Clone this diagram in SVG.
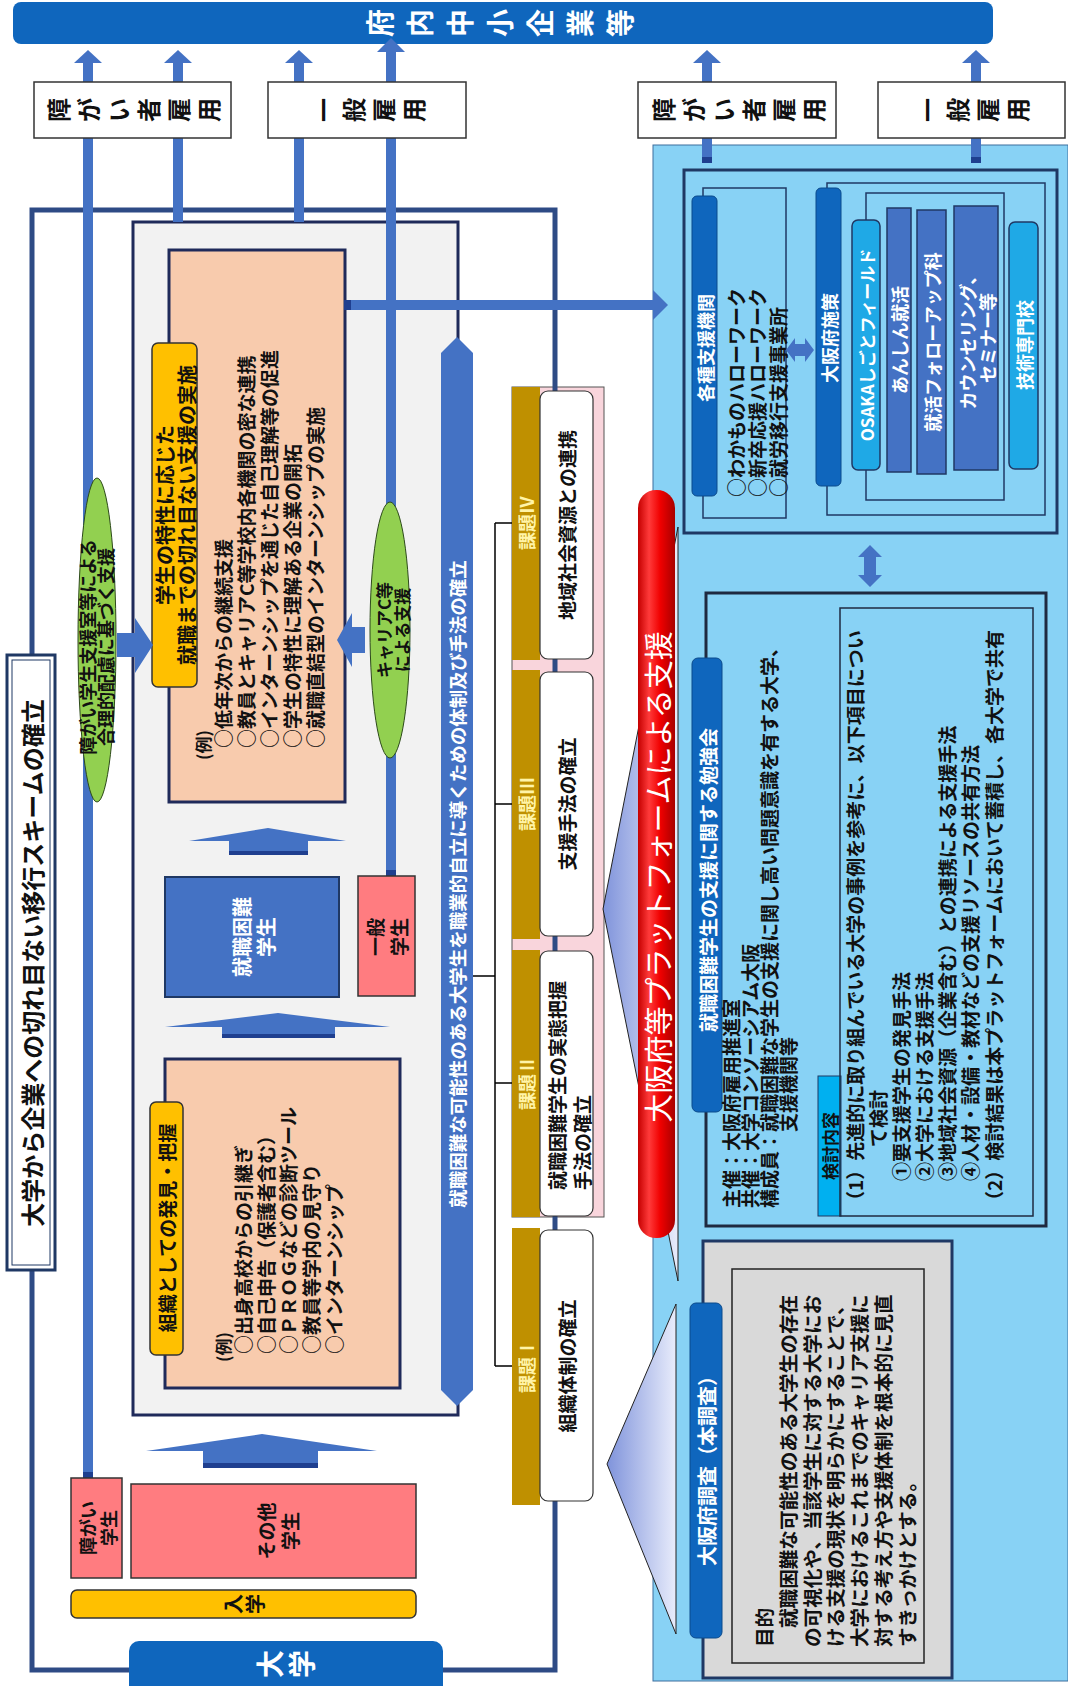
<svg xmlns="http://www.w3.org/2000/svg" width="1068" height="1686" viewBox="0 0 1068 1686">
<defs>
<style>
text { font-family: "Noto Sans CJK JP", "Noto Sans CJK SC", "Noto Sans", sans-serif; dominant-baseline: central; fill: #111; }
.b { font-weight: bold; }
.w { fill: #ffffff; }
.c { text-anchor: middle; }
.s { text-anchor: start; }
.gl { fill: #FFF4A8; }
.f17 { font-size: 17px; }
.f18 { font-size: 18px; }
.f19 { font-size: 19px; }
.f20 { font-size: 20px; }
.f24 { font-size: 24px; }
.f26 { font-size: 26px; }
.f28 { font-size: 28px; }
.ln { fill: none; stroke: #4472C4; stroke-width: 10; }
.ah { fill: #4472C4; }
.cap { fill: #1F3F8F; }
.thin { fill: none; stroke: #1F3864; stroke-width: 1.5; }
.emp { fill: #ffffff; stroke: #333; stroke-width: 1.5; }
.dbar { fill: #0F66BD; stroke: #0B4A8C; stroke-width: 1; }
.cy { fill: #1FA9E6; stroke: #1F3864; stroke-width: 1.5; }
.mb { fill: #4472C4; stroke: #1F3864; stroke-width: 1.5; }
.gold { fill: #BF9000; }
.wb { fill: #ffffff; stroke: #333; stroke-width: 1.2; }
.sal { fill: #FF7C80; stroke: #333; stroke-width: 1.5; }
.br { fill: none; stroke: #000; stroke-width: 1.5; }
</style>
<linearGradient id="redG" x1="0" y1="0" x2="1" y2="0">
<stop offset="0" stop-color="#C40000"/>
<stop offset="0.3" stop-color="#FF3A3A"/>
<stop offset="0.6" stop-color="#F00000"/>
<stop offset="1" stop-color="#A80000"/>
</linearGradient>
<linearGradient id="triG" x1="0" y1="0" x2="1" y2="0">
<stop offset="0" stop-color="#7F93DB"/>
<stop offset="1" stop-color="#E8ECFB"/>
</linearGradient>
</defs>
<rect width="1068" height="1686" fill="#ffffff"/>

<g id="light-blue-area">
<rect x="653" y="145" width="415" height="1536" fill="#88D2F5" stroke="#3D6E9E" stroke-width="1"/>
</g>

<g id="fuchu-chusho">
<rect x="13" y="2" width="980" height="42" rx="8" fill="#0F66BD"/>
<text class="b w f28 c" transform="translate(379 23) rotate(-90)">府</text>
<text class="b w f28 c" transform="translate(419 23) rotate(-90)">内</text>
<text class="b w f28 c" transform="translate(459 23) rotate(-90)">中</text>
<text class="b w f28 c" transform="translate(499 23) rotate(-90)">小</text>
<text class="b w f28 c" transform="translate(539 23) rotate(-90)">企</text>
<text class="b w f28 c" transform="translate(579 23) rotate(-90)">業</text>
<text class="b w f28 c" transform="translate(619 23) rotate(-90)">等</text>
</g>

<g id="kadai-pink">
<rect x="512" y="387" width="92" height="830" fill="#F9D5DC" stroke="#555" stroke-width="1"/>
</g>

<g id="daigaku-frame">
<rect x="32" y="210" width="523" height="1460" fill="none" stroke="#2E4B85" stroke-width="5"/>
</g>

<g id="title">
<rect x="7" y="655" width="48" height="615" fill="#ffffff" stroke="#1F3864" stroke-width="3"/>
<rect x="12" y="660" width="38" height="605" fill="none" stroke="#1F3864" stroke-width="1"/>
<text class="b f24 c" transform="translate(31 963) rotate(-90)">大学から企業への切れ目ない移行スキームの確立</text>
</g>

<g id="gray-box">
<rect x="133" y="222" width="325" height="1193" fill="#F2F2F2" stroke="#1F2A5A" stroke-width="3"/>
</g>

<g id="support-box">
<rect x="169" y="250" width="176" height="552" fill="#F8CBAD" stroke="#1F2A5A" stroke-width="3"/>
<rect x="152" y="343" width="45" height="344" rx="6" fill="#FFC000" stroke="#333" stroke-width="1.5"/>
<text class="b f20 c" transform="translate(164 515) rotate(-90)"><tspan x="0" y="0">学生の特性に応じた</tspan><tspan x="0" y="22">就職までの切れ目ない支援の実施</tspan></text>
<text class="b f17 s" transform="translate(202 760) rotate(-90)">(例)</text>
<text class="b f19 s" transform="translate(222 748) rotate(-90)"><tspan x="0" y="0">○低年次からの継続支援</tspan><tspan x="0" y="23">○教員とキャリアC等学校内各機関の密な連携</tspan><tspan x="0" y="46">○インターンシップを通じた自己理解等の促進</tspan><tspan x="0" y="69">○学生の特性に理解ある企業の開拓</tspan><tspan x="0" y="92">○就職直結型のインターンシップの実施</tspan></text>
</g>

<g id="discovery-box">
<rect x="165" y="1059" width="235" height="329" fill="#F8CBAD" stroke="#1F2A5A" stroke-width="3"/>
<rect x="150" y="1102" width="33" height="253" rx="6" fill="#FFC000" stroke="#333" stroke-width="1.5"/>
<text class="b f19 c" transform="translate(166.5 1228) rotate(-90)">組織としての発見・把握</text>
<text class="b f17 s" transform="translate(222 1362) rotate(-90)">(例)</text>
<text class="b f19 s" transform="translate(242 1354) rotate(-90)"><tspan x="0" y="0">○出身高校からの引継ぎ</tspan><tspan x="0" y="22.7">○自己申告（保護者含む）</tspan><tspan x="0" y="45.4">○ＰＲＯＧなどの診断ツール</tspan><tspan x="0" y="68.1">○教員等学内の見守り</tspan><tspan x="0" y="90.8">○インターンシップ</tspan></text>
</g>

<g id="shushoku-konnan">
<rect x="165" y="877" width="174" height="120" fill="#4472C4" stroke="#1F3864" stroke-width="2"/>
<text class="b w f20 c" transform="translate(241 937) rotate(-90)"><tspan x="0" y="0">就職困難</tspan><tspan x="0" y="24">学生</tspan></text>
</g>

<g id="shushoku-bar">
<polygon points="457,337 473,353 473,1390 457,1406 441,1390 441,353" fill="#4472C4"/>
<text class="b w f18 c" transform="translate(457 884) rotate(-90)" style="font-size:18.5px">就職困難な可能性のある大学生を職業的自立に導くための体制及び手法の確立</text>
</g>

<g id="kadai-4">
<rect x="512" y="387" width="28" height="273" class="gold"/>
<rect x="540" y="391" width="53" height="268" rx="8" class="wb"/>
<text class="b gl f18 c" transform="translate(526 523) rotate(-90)">課題Ⅳ</text>
<text class="b f19 c" transform="translate(566 525) rotate(-90)">地域社会資源との連携</text>
</g>
<g id="kadai-3">
<rect x="512" y="670" width="28" height="269" class="gold"/>
<rect x="540" y="672" width="53" height="264" rx="8" class="wb"/>
<text class="b gl f18 c" transform="translate(526 804) rotate(-90)">課題Ⅲ</text>
<text class="b f19 c" transform="translate(566 804) rotate(-90)">支援手法の確立</text>
</g>
<g id="kadai-2">
<rect x="512" y="950" width="28" height="267" class="gold"/>
<rect x="540" y="951" width="53" height="265" rx="8" class="wb"/>
<text class="b gl f18 c" transform="translate(526 1083) rotate(-90)">課題Ⅱ</text>
<text class="b f19 s" transform="translate(556 1190) rotate(-90)"><tspan x="0" y="0">就職困難学生の実態把握</tspan><tspan x="0" y="25">手法の確立</tspan></text>
</g>
<g id="kadai-1">
<rect x="512" y="1228" width="28" height="277" class="gold"/>
<rect x="540" y="1230" width="53" height="271" rx="8" class="wb"/>
<text class="b gl f18 c" transform="translate(526 1366) rotate(-90)">課題Ⅰ</text>
<text class="b f19 c" transform="translate(566 1366) rotate(-90)">組織体制の確立</text>
</g>

<g id="callouts">
<polygon points="603,909 678,527 678,1281" fill="url(#triG)" stroke="#222" stroke-width="1"/>
<polygon points="607,1464 676,1304 676,1634" fill="url(#triG)" stroke="#222" stroke-width="1"/>
</g>

<g id="platform">
<rect x="638" y="490" width="37" height="748" rx="18" fill="url(#redG)"/>
<text class="w c" style="font-size:29px" transform="translate(657 877) rotate(-90)">大阪府等プラットフォームによる支援</text>
</g>

<g id="support-agencies">
<rect x="684" y="170" width="373" height="363" fill="none" stroke="#1F3864" stroke-width="3"/>
<rect x="703" y="188" width="83" height="330" class="thin"/>
<rect x="692" y="196" width="25" height="300" rx="5" class="dbar"/>
<text class="b w f18 c" transform="translate(704.5 348) rotate(-90)">各種支援機関</text>
<text class="b f19 s" transform="translate(735 497) rotate(-90)"><tspan x="0" y="0">○わかものハローワーク</tspan><tspan x="0" y="21">○新卒応援ハローワーク</tspan><tspan x="0" y="42">○就労移行支援事業所</tspan></text>
</g>

<g id="osaka-measures">
<rect x="827" y="183" width="218" height="332" class="thin"/>
<rect x="816" y="188" width="25" height="298" rx="5" class="dbar"/>
<text class="b w f18 c" transform="translate(828.5 338) rotate(-90)">大阪府施策</text>
<rect x="866" y="193" width="138" height="307" class="thin"/>
<rect x="852" y="220" width="28" height="250" rx="6" class="cy"/>
<text class="b w f17 c" transform="translate(866 345) rotate(-90)">OSAKAしごとフィールド</text>
<rect x="887" y="208" width="24" height="264" class="mb"/>
<text class="b w f18 c" transform="translate(899 340) rotate(-90)">あんしん就活</text>
<rect x="917" y="210" width="29" height="264" class="mb"/>
<text class="b w f18 c" transform="translate(931.5 342) rotate(-90)">就活フォローアップ科</text>
<rect x="954" y="206" width="44" height="264" class="mb"/>
<text class="b w f18 c" transform="translate(967 338) rotate(-90)"><tspan x="0" y="0">カウンセリング、</tspan><tspan x="0" y="20">セミナー等</tspan></text>
<rect x="1009" y="222" width="29" height="247" rx="6" class="cy"/>
<text class="b w f18 c" transform="translate(1023.5 345) rotate(-90)">技術専門校</text>
</g>

<g id="study-group">
<rect x="706" y="593" width="340" height="633" fill="none" stroke="#1F2A40" stroke-width="3"/>
<rect x="692" y="658" width="30" height="454" rx="6" class="dbar"/>
<text class="b w f19 c" transform="translate(707 880) rotate(-90)">就職困難学生の支援に関する勉強会</text>
<text class="b f19 s" transform="translate(730 1208) rotate(-90)"><tspan x="0" y="0">主催：大阪府雇用推進室</tspan><tspan x="0" y="19">共催：大学コンソーシアム大阪</tspan><tspan x="0" y="38">構成員：就職困難な学生の支援に関し高い問題意識を有する大学、</tspan><tspan x="76" y="57">支援機関等</tspan></text>
<rect x="818" y="1076" width="23" height="140" fill="#00B0F0" stroke="#1F3864" stroke-width="1"/>
<text class="b f17 c" transform="translate(829.5 1146) rotate(-90)">検討内容</text>
<rect x="840" y="608" width="193" height="608" fill="none" stroke="#1F2A40" stroke-width="1.5"/>
<text class="b f19 s" transform="translate(854 1210) rotate(-90)"><tspan x="0" y="0">（1）先進的に取り組んでいる大学の事例を参考に、以下項目につい</tspan><tspan x="63" y="23">て検討</tspan><tspan x="29" y="46">①要支援学生の発見手法</tspan><tspan x="29" y="69">②大学における支援手法</tspan><tspan x="29" y="92">③地域社会資源（企業含む）との連携による支援手法</tspan><tspan x="29" y="115">④人材・設備・教材などの支援リソースの共有方法</tspan><tspan x="0" y="139">（2）検討結果は本プラットフォームにおいて蓄積し、各大学で共有</tspan></text>
</g>

<g id="osaka-survey">
<rect x="703" y="1241" width="249" height="437" fill="#D9D9D9" stroke="#1F3864" stroke-width="3"/>
<rect x="690" y="1303" width="32" height="335" rx="6" class="dbar"/>
<text class="b w f20 c" transform="translate(706 1466) rotate(-90)">大阪府調査（本調査）</text>
<rect x="732" y="1269" width="192" height="394" fill="#D9D9D9" stroke="#222" stroke-width="1.5"/>
<text class="b f19 s" transform="translate(763 1647) rotate(-90)" style="font-size:19.6px"><tspan x="0" y="0">目的</tspan><tspan x="19" y="23.8">就職困難な可能性のある大学生の存在</tspan><tspan x="0" y="47.6">の可視化や、当該学生に対する大学にお</tspan><tspan x="0" y="71.4">ける支援の現状を明らかにすることで、</tspan><tspan x="0" y="95.2">大学におけるこれまでのキャリア支援に</tspan><tspan x="0" y="119">対する考え方や支援体制を根本的に見直</tspan><tspan x="0" y="142.8">すきっかけとする。</tspan></text>
</g>

<g id="connectors">
<path class="ln" d="M88 62 V1478"/>
<path class="ln" d="M178 62 V222"/>
<path class="ln" d="M299 62 V222"/>
<path class="ln" d="M391 51 V876"/>
<path class="ln" d="M707 62 V163"/>
<path class="ln" d="M976 62 V163"/>
<rect class="cap" x="83" y="1472" width="10" height="6"/>
<rect class="cap" x="386" y="870" width="10" height="6"/>
<rect class="cap" x="702" y="157" width="10" height="6"/>
<rect class="cap" x="971" y="157" width="10" height="6"/>
<polygon class="ah" points="88,50 102,63 74,63"/>
<polygon class="ah" points="178,50 192,63 164,63"/>
<polygon class="ah" points="299,50 313,63 285,63"/>
<polygon class="ah" points="391,38 405,52 377,52"/>
<polygon class="ah" points="707,50 721,63 693,63"/>
<polygon class="ah" points="976,50 990,63 962,63"/>
<path class="ln" d="M344 305 H655"/>
<rect class="cap" x="344" y="300" width="7" height="10"/>
<polygon class="ah" points="653,290 668,305 653,320"/>
<polygon class="ah" points="117,633 135,633 135,618 153,645 135,673 135,657 117,657"/>
<polygon class="ah" points="365,627 352,627 352,613 337,640 352,667 352,653 365,653"/>
<polygon class="ah" points="189,841 268,828 346,841 308,841 308,855 229,855 229,841"/>
<rect x="229" y="851" width="79" height="4" class="cap"/>
<polygon class="ah" points="165,1027 278,1013 390,1027 335,1027 335,1038 222,1038 222,1027"/>
<rect x="222" y="1034" width="113" height="4" class="cap"/>
<polygon class="ah" points="146,1451 262,1434 377,1451 318,1451 318,1468 203,1468 203,1451"/>
<rect x="203" y="1463" width="115" height="5" class="cap"/>
<polygon class="ah" points="786,350 795,338 795,344 805,344 805,338 814,350 805,362 805,356 795,356 795,362"/>
<polygon class="ah" points="870,545 882,557 876,557 876,575 882,575 870,587 858,575 864,575 864,557 858,557"/>
<path class="br" d="M495 523 V1366 M495 523 H512 M495 804 H512 M495 1083 H512 M495 1366 H512 M473 976 H495"/>
</g>

<g id="goriteki-hairyo">
<ellipse cx="97" cy="640" rx="19" ry="162" fill="#92D050" stroke="#2D4A1A" stroke-width="1"/>
<text class="b f18 c" transform="translate(87 647) rotate(-90)"><tspan x="0" y="0">障がい学生支援室等による</tspan><tspan x="0" y="18">合理的配慮に基づく支援</tspan></text>
</g>

<g id="career-center">
<ellipse cx="390" cy="630" rx="20" ry="128" fill="#92D050" stroke="#2D4A1A" stroke-width="1"/>
<text class="b f17 c" transform="translate(383 630) rotate(-90)"><tspan x="0" y="0">キャリアC等</tspan><tspan x="0" y="18">による支援</tspan></text>
</g>

<g id="ippan-gakusei">
<rect x="358" y="876" width="57" height="120" class="sal"/>
<text class="b f19 c" transform="translate(374 937) rotate(-90)"><tspan x="0" y="0">一般</tspan><tspan x="0" y="24">学生</tspan></text>
</g>

<g id="shogai-gakusei">
<rect x="71" y="1478" width="51" height="100" class="sal"/>
<text class="b f18 c" transform="translate(87 1528) rotate(-90)"><tspan x="0" y="0">障がい</tspan><tspan x="0" y="21">学生</tspan></text>
</g>

<g id="sonota-gakusei">
<rect x="131" y="1484" width="285" height="94" class="sal"/>
<text class="b f19 c" transform="translate(265 1531) rotate(-90)"><tspan x="0" y="0">その他</tspan><tspan x="0" y="24">学生</tspan></text>
</g>

<g id="nyugaku">
<rect x="71" y="1590" width="345" height="28" rx="6" fill="#FFC000" stroke="#333" stroke-width="1.5"/>
<text class="b f20 c" transform="translate(232 1604) rotate(-90)">入</text>
<text class="b f20 c" transform="translate(254 1604) rotate(-90)">学</text>
</g>

<g id="daigaku">
<rect x="129" y="1641" width="314" height="60" rx="10" fill="#0F66BD"/>
<text class="b w f28 c" transform="translate(269 1664) rotate(-90)">大</text>
<text class="b w f28 c" transform="translate(301 1664) rotate(-90)">学</text>
</g>

<g id="shogaisha-koyo-1">
<rect x="34" y="82" width="197" height="56" class="emp"/>
<text class="b f24 c" transform="translate(57.5 110) rotate(-90)">障</text>
<text class="b f24 c" transform="translate(87.5 110) rotate(-90)">が</text>
<text class="b f24 c" transform="translate(117.5 110) rotate(-90)">い</text>
<text class="b f24 c" transform="translate(147.5 110) rotate(-90)">者</text>
<text class="b f24 c" transform="translate(177.5 110) rotate(-90)">雇</text>
<text class="b f24 c" transform="translate(207.5 110) rotate(-90)">用</text>
</g>
<g id="ippan-koyo-1">
<rect x="268" y="82" width="198" height="56" class="emp"/>
<text class="b f24 c" transform="translate(322 110) rotate(-90)">一</text>
<text class="b f24 c" transform="translate(352 110) rotate(-90)">般</text>
<text class="b f24 c" transform="translate(382 110) rotate(-90)">雇</text>
<text class="b f24 c" transform="translate(412 110) rotate(-90)">用</text>
</g>
<g id="shogaisha-koyo-2">
<rect x="638" y="82" width="198" height="56" class="emp"/>
<text class="b f24 c" transform="translate(662 110) rotate(-90)">障</text>
<text class="b f24 c" transform="translate(692 110) rotate(-90)">が</text>
<text class="b f24 c" transform="translate(722 110) rotate(-90)">い</text>
<text class="b f24 c" transform="translate(752 110) rotate(-90)">者</text>
<text class="b f24 c" transform="translate(782 110) rotate(-90)">雇</text>
<text class="b f24 c" transform="translate(812 110) rotate(-90)">用</text>
</g>
<g id="ippan-koyo-2">
<rect x="878" y="82" width="187" height="56" class="emp"/>
<text class="b f24 c" transform="translate(926.5 110) rotate(-90)">一</text>
<text class="b f24 c" transform="translate(956.5 110) rotate(-90)">般</text>
<text class="b f24 c" transform="translate(986.5 110) rotate(-90)">雇</text>
<text class="b f24 c" transform="translate(1016.5 110) rotate(-90)">用</text>
</g>
</svg>
